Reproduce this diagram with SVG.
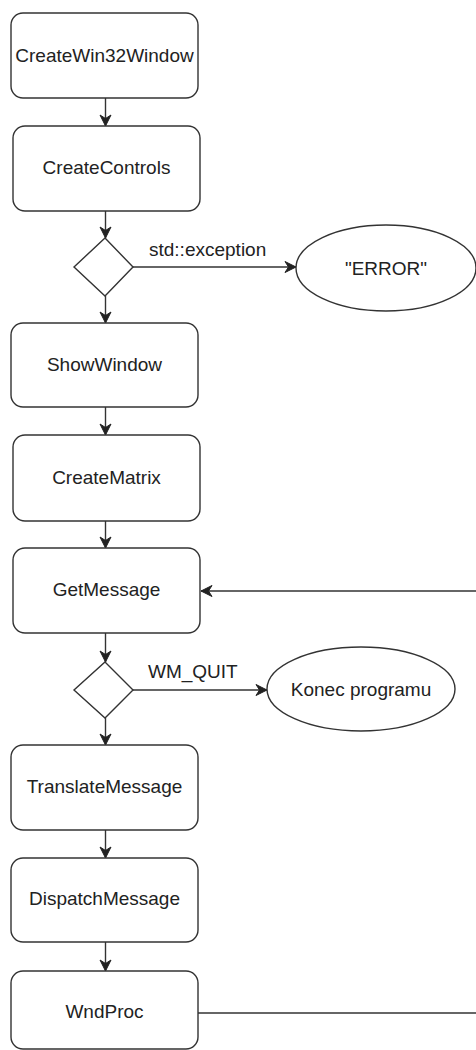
<svg xmlns="http://www.w3.org/2000/svg" width="476" height="1050" viewBox="0 0 476 1050">
<style>
.box{fill:#fff;stroke:#333;stroke-width:1.4}
.t{font-family:"Liberation Sans",Arial,sans-serif;font-size:19px;fill:#222;text-anchor:middle;dominant-baseline:central}
.lbl{font-family:"Liberation Sans",Arial,sans-serif;font-size:19px;fill:#222}
.c{fill:none;stroke:#333;stroke-width:1.4}
</style>
<defs>
<marker id="arr" markerUnits="userSpaceOnUse" markerWidth="13" markerHeight="13" refX="12" refY="6.5" orient="auto">
<path d="M1,1 L12,6.5 L1,12 L4.5,6.5 Z" fill="#222" stroke="#222" stroke-width="1"/>
</marker>
</defs>
<g id="connectors">
<line class="c" x1="105.5" y1="98" x2="105.5" y2="126" marker-end="url(#arr)"/>
<line class="c" x1="105.5" y1="211" x2="105.5" y2="238" marker-end="url(#arr)"/>
<line class="c" x1="133" y1="267" x2="296" y2="267" marker-end="url(#arr)"/>
<line class="c" x1="105.5" y1="296" x2="105.5" y2="323" marker-end="url(#arr)"/>
<line class="c" x1="105.5" y1="407" x2="105.5" y2="435" marker-end="url(#arr)"/>
<line class="c" x1="105.5" y1="521" x2="105.5" y2="548" marker-end="url(#arr)"/>
<line class="c" x1="476" y1="591" x2="201" y2="591" marker-end="url(#arr)"/>
<line class="c" x1="105.5" y1="633" x2="105.5" y2="662" marker-end="url(#arr)"/>
<line class="c" x1="133" y1="690" x2="267" y2="690" marker-end="url(#arr)"/>
<line class="c" x1="105.5" y1="718" x2="105.5" y2="745" marker-end="url(#arr)"/>
<line class="c" x1="105.5" y1="830" x2="105.5" y2="858" marker-end="url(#arr)"/>
<line class="c" x1="105.5" y1="942" x2="105.5" y2="971" marker-end="url(#arr)"/>
<line class="c" x1="198" y1="1013" x2="476" y2="1013"/>
<text class="lbl" x="149" y="256">std::exception</text>
<text class="lbl" x="148" y="678">WM_QUIT</text>
</g>
<g id="createWin32Window"><rect class="box" x="11" y="13" width="187" height="85" rx="12"/><text class="t" x="104.5" y="55">CreateWin32Window</text></g>
<g id="createControls"><rect class="box" x="13" y="126" width="187" height="85" rx="12"/><text class="t" x="106.5" y="167">CreateControls</text></g>
<g id="decision1"><polygon class="box" points="105,238 133,267 105,296 74,267"/></g>
<g id="error"><ellipse class="box" cx="386" cy="268" rx="90" ry="43"/><text class="t" x="386" y="268">"ERROR"</text></g>
<g id="showWindow"><rect class="box" x="11" y="323" width="187" height="84" rx="12"/><text class="t" x="104.5" y="364">ShowWindow</text></g>
<g id="createMatrix"><rect class="box" x="13" y="435" width="187" height="86" rx="12"/><text class="t" x="106.5" y="477">CreateMatrix</text></g>
<g id="getMessage"><rect class="box" x="13" y="548" width="187" height="85" rx="12"/><text class="t" x="106.5" y="589">GetMessage</text></g>
<g id="decision2"><polygon class="box" points="105,662 133,690 105,718 74,690"/></g>
<g id="konec"><ellipse class="box" cx="361" cy="689" rx="94" ry="42"/><text class="t" x="361" y="689">Konec programu</text></g>
<g id="translateMessage"><rect class="box" x="11" y="745" width="187" height="85" rx="12"/><text class="t" x="104.5" y="786">TranslateMessage</text></g>
<g id="dispatchMessage"><rect class="box" x="11" y="858" width="187" height="84" rx="12"/><text class="t" x="104.5" y="898">DispatchMessage</text></g>
<g id="wndProc"><rect class="box" x="11" y="971" width="187" height="78" rx="12"/><text class="t" x="104.5" y="1011">WndProc</text></g>
</svg>
